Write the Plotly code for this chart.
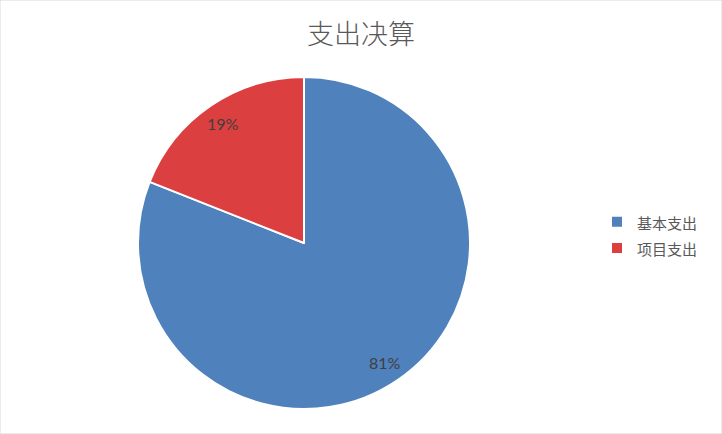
import math
import plotly.graph_objects as go

categories = ["基本支出", "项目支出"]
values = [81, 19]
colors = ["#4F81BD", "#DC3F3F"]

W, H = 722, 434
cx, cy, r = 304, 243, 166

legend_labels = [f"<span style='font-size:15px'>{c}</span>" for c in categories]

fig = go.Figure(go.Pie(
    labels=legend_labels,
    values=values,
    sort=False,
    direction="clockwise",
    rotation=0,
    marker=dict(colors=colors, line=dict(color="white", width=2)),
    textinfo="none",
    domain=dict(x=[(cx - r) / W, (cx + r) / W], y=[1 - (cy + r) / H, 1 - (cy - r) / H]),
    hovertemplate="%{label}: %{percent}<extra></extra>",
))

# percentage labels placed along each slice's mid-angle, computed from the data
total = sum(values)
annotations = []
acc = 0
for v in values:
    mid = (acc + v / 2) / total * 2 * math.pi
    acc += v
    rr = 0.87 * r
    px = cx + rr * math.sin(mid)
    py = cy - rr * math.cos(mid)
    annotations.append(dict(
        x=px / W, y=1 - py / H, xref="paper", yref="paper",
        text=f"{round(v / total * 100)}%", showarrow=False,
        font=dict(family="Lato, Noto Sans", size=16, color="#404040", weight=400, style="normal"),
        xanchor="center", yanchor="middle",
    ))

fig.update_layout(
    width=W, height=H,
    margin=dict(l=0, r=0, t=0, b=0),
    paper_bgcolor="white",
    title=dict(text="支出决算", x=0.5, xanchor="center", y=1 - 35 / H, yanchor="middle",
               font=dict(family="Noto Sans CJK SC", size=27, color="#595959", weight=300)),
    legend=dict(x=597 / W, y=1 - 235 / H, xanchor="left", yanchor="middle",
                font=dict(family="Noto Sans CJK SC", size=18, color="#595959"),
                itemwidth=30),
    annotations=annotations,
    shapes=[dict(type="rect", xref="paper", yref="paper", x0=0, y0=0, x1=1, y1=1,
                 line=dict(color="#D9D9D9", width=1))],
)

fig.write_html("out.html", config={"displayModeBar": False},
               post_script="document.body.style.margin='0';document.body.style.padding='0';")
